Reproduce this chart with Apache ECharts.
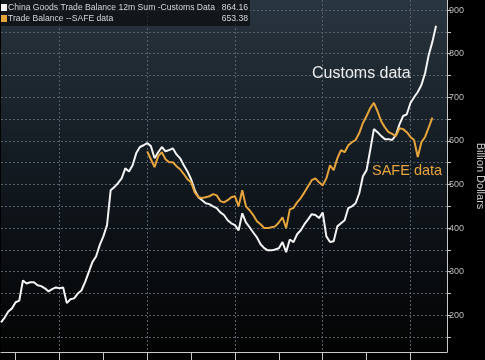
<!DOCTYPE html>
<html>
<head>
<meta charset="utf-8">
<script src="https://cdn.jsdelivr.net/npm/echarts@6/dist/echarts.min.js"></script>
<style>
html,body{margin:0;padding:0;background:#000;}
#c{width:485px;height:360px;}
</style>
</head>
<body>
<div id="c"></div>
<script>
// Monthly categories: Sep 2012 .. Nov 2022
const startYear = 2012, startMonth = 9, monthCount = 123;
const months = [];
for (let k = 0; k < monthCount; k++) {
  const m = startMonth - 1 + k;
  const y = startYear + Math.floor(m / 12);
  const mm = (m % 12) + 1;
  months.push(y + '-' + (mm < 10 ? '0' + mm : '' + mm));
}

const customsName = 'China Goods Trade Balance 12m Sum -Customs Data';
const safeName = 'Trade Balance --SAFE data';
const customsLast = '864.16';
const safeLast = '653.38';

// China goods trade balance, 12m sum, customs data (billion USD), Sep 2012 .. Aug 2022
const customs = [
  184,195,209,216,230,234,280,273,276,276,269,267,
  262,255,260,264,262,264,228,237,239,250,257,276,
  299,322,335,361,381,407,487,494,503,514,537,530,
  544,572,586,590,595,588,560,574,586,576,579,583,
  569,560,544,530,512,487,471,464,457,455,450,446,
  436,430,418,411,407,395,434,413,402,390,379,363,
  354,349,349,351,354,368,345,374,368,386,395,409,
  420,432,430,423,436,381,368,370,404,411,418,446,
  450,457,480,519,533,579,627,620,611,604,604,602,
  613,638,657,661,687,700,712,728,755,797,827,864.16
];

// Trade balance, SAFE data (billion USD), Jan 2016 .. Jul 2022
const safeStartIndex = 40;
const safe = [
  576,558,540,565,574,558,551,551,542,535,524,512,
  505,482,471,469,471,473,478,475,462,459,464,471,
  473,450,487,450,441,430,416,409,400,400,402,404,
  413,425,400,443,446,459,469,482,496,510,514,505,
  498,514,544,533,560,579,574,590,597,602,618,641,
  657,675,687,668,645,631,620,616,611,629,627,620,
  609,602,563,597,609,631,653.38
];

const yTicks = [150,200,250,300,350,400,450,500,550,600,650,700,750,800,850,900];
const yLabels = [200,300,400,500,600,700,800,900];

const customsData = months.map((m, i) => i < customs.length ? customs[i] : null);
const safeData = months.map((m, i) => {
  const j = i - safeStartIndex;
  return (j >= 0 && j < safe.length) ? safe[j] : null;
});

const chart = echarts.init(document.getElementById('c'), null, {renderer: 'canvas'});
const font = 'Liberation Sans, Arial, sans-serif';

chart.setOption({
  backgroundColor: '#000',
  animation: false,
  grid: {
    left: 1, right: 38, top: 0, bottom: 8,
    containLabel: false,
    outerBoundsMode: 'none',
    show: true,
    borderWidth: 0,
    backgroundColor: {
      type: 'linear', x: 0, y: 0, x2: 0, y2: 1,
      colorStops: [
        {offset: 0, color: '#29353f'},
        {offset: 0.45, color: '#131b22'},
        {offset: 1, color: '#030303'}
      ]
    }
  },
  xAxis: {
    type: 'category',
    data: months,
    boundaryGap: false,
    axisLine: {show: true, lineStyle: {color: '#c8c8c8', width: 1}},
    axisTick: {
      show: true, length: 8, inside: false,
      interval: (idx, val) => val.slice(5) === '01',
      lineStyle: {color: '#c8c8c8'}
    },
    axisLabel: {show: false},
    splitLine: {
      show: true,
      interval: (idx, val) => val.slice(5) === '01' && (parseInt(val.slice(0, 4)) % 2 === 0),
      lineStyle: {color: '#56606a', type: [2, 2], width: 1}
    }
  },
  yAxis: {
    type: 'value',
    position: 'right',
    min: 116, max: 923,
    axisLine: {show: true, lineStyle: {color: '#c8c8c8', width: 1}},
    axisTick: {show: true, customValues: yTicks, length: 4, lineStyle: {color: '#c8c8c8'}},
    axisLabel: {customValues: yLabels, color: '#bdbdbd', fontSize: 9, margin: 2, fontFamily: font},
    splitLine: {show: true, lineStyle: {color: '#56606a', type: [2, 2], width: 1}},
    name: 'Billion Dollars',
    nameLocation: 'middle',
    nameRotate: -90,
    nameGap: 26,
    nameTextStyle: {color: '#c8c8c8', fontSize: 11, fontFamily: font}
  },
  series: [
    {
      name: customsName, type: 'line', data: customsData,
      showSymbol: false, connectNulls: false,
      lineStyle: {color: '#f4f4f4', width: 2},
      itemStyle: {color: '#f4f4f4'},
      z: 3
    },
    {
      name: safeName, type: 'line', data: safeData,
      showSymbol: false, connectNulls: false,
      lineStyle: {color: '#e6a43c', width: 2},
      itemStyle: {color: '#e6a43c'},
      z: 4
    }
  ],
  graphic: [
    {type: 'rect', left: 0, top: 0, shape: {width: 250, height: 26}, style: {fill: 'rgba(0,0,0,0.55)'}, z: 10},
    {type: 'rect', left: 1, top: 4, shape: {width: 6, height: 7}, style: {fill: '#f4f4f4'}, z: 11},
    {type: 'rect', left: 1, top: 15, shape: {width: 6, height: 7}, style: {fill: '#e6a43c'}, z: 11},
    {type: 'text', left: 8, top: 3, style: {text: customsName, fill: '#d6d6d6', font: '8.6px ' + font}, z: 11},
    {type: 'text', left: 8, top: 14, style: {text: safeName, fill: '#d6d6d6', font: '8.6px ' + font}, z: 11},
    {type: 'text', right: 237, top: 3, style: {text: customsLast, fill: '#d6d6d6', font: '8.6px ' + font, textAlign: 'right'}, z: 11},
    {type: 'text', right: 237, top: 14, style: {text: safeLast, fill: '#d6d6d6', font: '8.6px ' + font, textAlign: 'right'}, z: 11},
    {type: 'text', left: 312, top: 66, style: {text: 'Customs data', fill: '#ececec', font: '16px ' + font}, z: 11},
    {type: 'text', left: 372, top: 163, style: {text: 'SAFE data', fill: '#e6a43c', font: '14.5px ' + font}, z: 11}
  ]
});
</script>
</body>
</html>
